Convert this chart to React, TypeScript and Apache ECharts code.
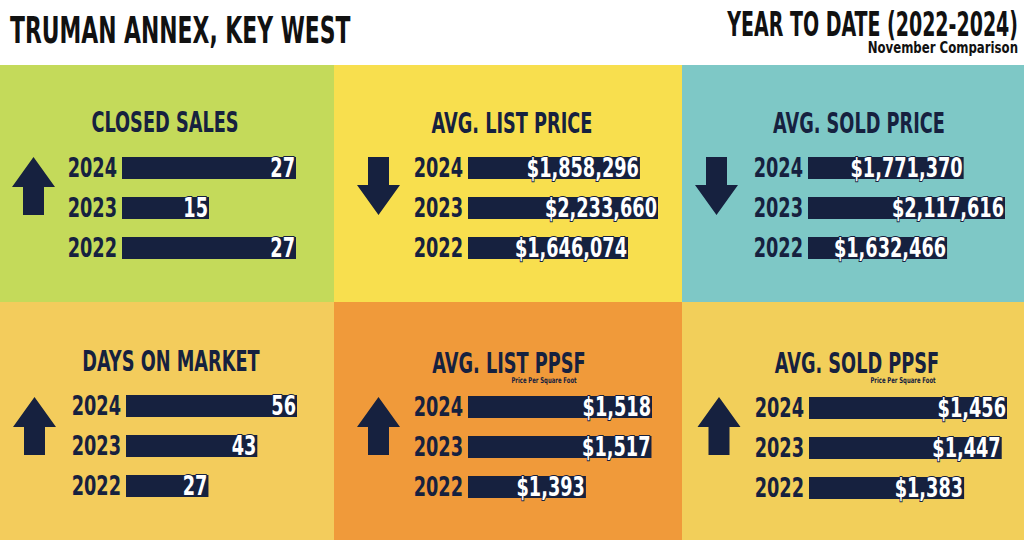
import React, { useEffect, useRef } from "react";
import * as echarts from "echarts";

const years = ["2024", "2023", "2022"];
const closedSales = [27, 15, 27];
const avgListPrice = [1858296, 2233660, 1646074];
const avgSoldPrice = [1771370, 2117616, 1632466];
const daysOnMarket = [56, 43, 27];
const avgListPpsf = [1518, 1517, 1393];
const avgSoldPpsf = [1456, 1447, 1383];
const panelTitles = ["CLOSED SALES", "AVG. LIST PRICE", "AVG. SOLD PRICE", "DAYS ON MARKET", "AVG. LIST PPSF", "AVG. SOLD PPSF"];
const trends = ["up", "down", "down", "up", "up", "up"];
const subtitle = "Price Per Square Foot";
const headerTitle = "TRUMAN ANNEX, KEY WEST";
const headerRight = "YEAR TO DATE (2022-2024)";
const headerSub = "November Comparison";

const NAVY = "#16213f";
const FONT = "'DejaVu Sans Condensed', 'DejaVu Sans', sans-serif";
const NUM_SCALE = 0.73;

const fmtCount = (v: number) => String(v);
const fmtMoney = (v: number) => "$" + v.toLocaleString("en-US");

type Panel = {
  data: number[];
  fmt: (v: number) => string;
  bg: string;
  rect: [number, number, number, number];
  gridLeft: number;
  gridTop: number;
  gridWidth: number;
  axisType: "value" | "log";
  min: number;
  max: number;
  titleX: number;
  titleY: number;
  arrowX: number;
  arrowTop: number;
  sub?: [number, number];
};

const panels: Panel[] = [
  { data: closedSales, fmt: fmtCount, bg: "#c4da5a", rect: [0, 65, 334, 237], gridLeft: 122, gridTop: 148, gridWidth: 174, axisType: "value", min: 3, max: 27, titleX: 165, titleY: 122, arrowX: 33.5, arrowTop: 157 },
  { data: avgListPrice, fmt: fmtMoney, bg: "#f8df4e", rect: [334, 65, 348, 237], gridLeft: 468, gridTop: 148, gridWidth: 190, axisType: "log", min: 323000, max: 2233660, titleX: 512, titleY: 123, arrowX: 378.5, arrowTop: 157 },
  { data: avgSoldPrice, fmt: fmtMoney, bg: "#7ec8c6", rect: [682, 65, 342, 237], gridLeft: 808, gridTop: 148, gridWidth: 197, axisType: "value", min: 468000, max: 2117616, titleX: 859, titleY: 123, arrowX: 716.5, arrowTop: 157 },
  { data: daysOnMarket, fmt: fmtCount, bg: "#f3cc5c", rect: [0, 302, 334, 238], gridLeft: 126, gridTop: 386, gridWidth: 171, axisType: "value", min: 0, max: 56, titleX: 171, titleY: 361, arrowX: 34.5, arrowTop: 397 },
  { data: avgListPpsf, fmt: fmtMoney, bg: "#f09a3a", rect: [334, 302, 348, 238], gridLeft: 468, gridTop: 387, gridWidth: 184, axisType: "value", min: 1170, max: 1518, titleX: 509, titleY: 363, arrowX: 378.5, arrowTop: 397, sub: [544, 380] },
  { data: avgSoldPpsf, fmt: fmtMoney, bg: "#f2cf5a", rect: [682, 302, 342, 238], gridLeft: 809, gridTop: 388, gridWidth: 198, axisType: "value", min: 1119, max: 1456, titleX: 857, titleY: 363, arrowX: 719, arrowTop: 397, sub: [903, 380] },
];

function arrowPoints(cx: number, top: number, dir: string) {
  const h = 58, hw = 21.5, sw = 10.5, head = 30;
  if (dir === "up") {
    return [[cx, top], [cx + hw, top + head], [cx + sw, top + head], [cx + sw, top + h], [cx - sw, top + h], [cx - sw, top + head], [cx - hw, top + head]];
  }
  const b = top + h;
  return [[cx, b], [cx + hw, b - head], [cx + sw, b - head], [cx + sw, top], [cx - sw, top], [cx - sw, b - head], [cx - hw, b - head]];
}

export default function App() {
  const ref = useRef<HTMLDivElement>(null);
  useEffect(() => {
    document.body.style.margin = "0";
    const chart = echarts.init(ref.current!, undefined, { renderer: "svg" });
    const graphics: any[] = [];
    panels.forEach((p, i) => {
      graphics.push({ type: "rect", z: -10, silent: true, shape: { x: p.rect[0], y: p.rect[1], width: p.rect[2], height: p.rect[3] }, style: { fill: p.bg } });
      graphics.push({ type: "text", z: 5, x: p.titleX, y: p.titleY, scaleX: 0.68, style: { text: panelTitles[i], fill: NAVY, font: `bold 29px ${FONT}`, textAlign: "center", textVerticalAlign: "middle" } });
      graphics.push({ type: "polygon", z: 5, shape: { points: arrowPoints(p.arrowX, p.arrowTop, trends[i]) }, style: { fill: NAVY } });
      if (p.sub) {
        graphics.push({ type: "text", z: 5, x: p.sub[0], y: p.sub[1], scaleX: 0.74, style: { text: subtitle, fill: NAVY, font: `bold 8px ${FONT}`, textAlign: "center", textVerticalAlign: "middle" } });
      }
    });
    graphics.push({ type: "text", z: 5, x: 10, y: 30, scaleX: 0.657, style: { text: headerTitle, fill: "#111", font: `bold 37px ${FONT}`, textAlign: "left", textVerticalAlign: "middle" } });
    graphics.push({ type: "text", z: 5, x: 1018, y: 25, scaleX: 0.64, style: { text: headerRight, fill: "#111", font: `bold 33px ${FONT}`, textAlign: "right", textVerticalAlign: "middle" } });
    graphics.push({ type: "text", z: 5, x: 1018, y: 48, scaleX: 0.87, style: { text: headerSub, fill: "#111", font: `bold 15px ${FONT}`, textAlign: "right", textVerticalAlign: "middle" } });

    const option: any = {
      animation: false,
      backgroundColor: "#ffffff",
      grid: panels.map((p) => ({ left: p.gridLeft, top: p.gridTop, width: p.gridWidth, height: 120, containLabel: false })),
      xAxis: panels.map((p, i) => ({
        type: p.axisType, gridIndex: i, min: p.min, max: p.max, show: false,
        ...(p.axisType === "log" ? { logBase: 10 } : {}),
        splitLine: { show: false },
      })),
      yAxis: panels.map((p, i) => ({
        type: "category", gridIndex: i, data: years, inverse: true,
        axisLine: { show: false }, axisTick: { show: false }, splitLine: { show: false },
        axisLabel: { show: false },
      })),
      series: panels.map((p, i) => ({
        type: "bar", xAxisIndex: i, yAxisIndex: i, data: p.data, barWidth: 22, clip: true,
        itemStyle: { color: NAVY },
        label: { show: false },
      })),
    };
    chart.setOption(option);

    // year labels and value labels, placed through the chart's own scales
    panels.forEach((p, i) => {
      p.data.forEach((v, j) => {
        const end = chart.convertToPixel({ gridIndex: i }, [v, years[j]]) as number[];
        const start = chart.convertToPixel({ gridIndex: i }, [p.min, years[j]]) as number[];
        graphics.push({
          type: "text", z: 6, x: start[0] - 5, y: end[1], scaleX: NUM_SCALE,
          style: { text: years[j], fill: NAVY, font: `bold 27px ${FONT}`, textAlign: "right", textVerticalAlign: "middle" },
        });
        graphics.push({
          type: "text", z: 6, x: end[0] - 1, y: end[1], scaleX: NUM_SCALE,
          style: { text: p.fmt(v), fill: "#ffffff", stroke: NAVY, lineWidth: 2, font: `bold 27px ${FONT}`, textAlign: "right", textVerticalAlign: "middle" },
        });
      });
    });
    chart.setOption({ graphic: { elements: graphics } });
    return () => chart.dispose();
  }, []);
  return <div ref={ref} style={{ position: "fixed", left: 0, top: 0, width: 1024, height: 540 }} />;
}
